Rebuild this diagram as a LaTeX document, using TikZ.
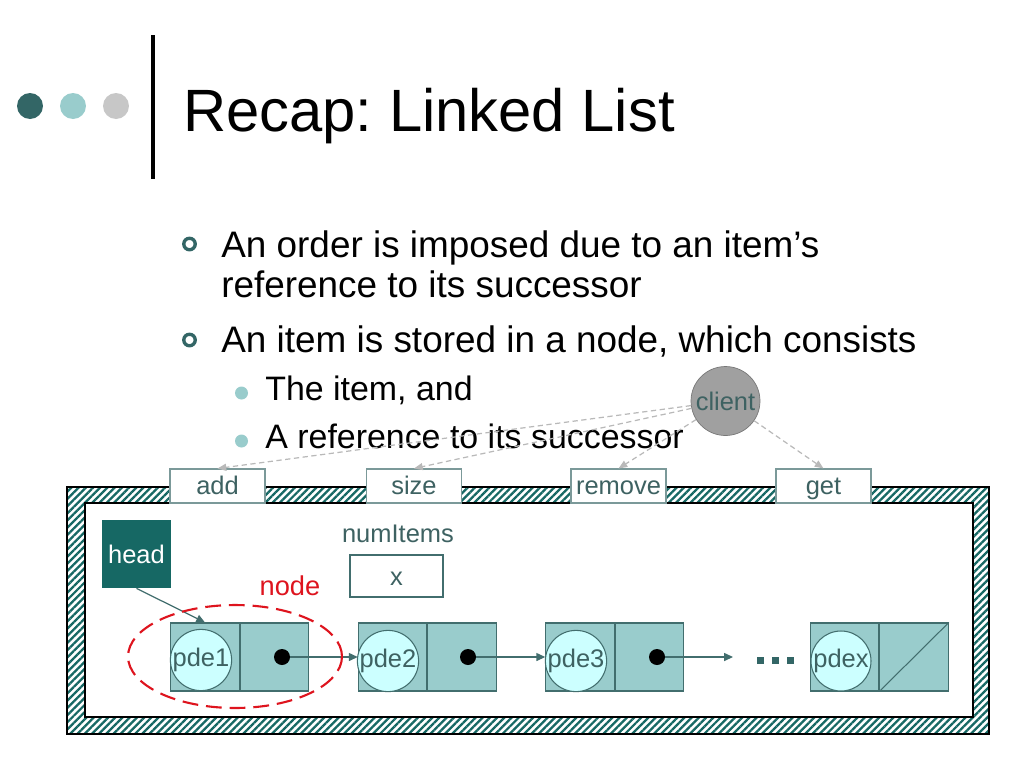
\documentclass[tikz,border=0pt]{standalone}
\usepackage{fontspec}
\setmainfont{Liberation Sans}
\usetikzlibrary{arrows.meta,patterns.meta,shapes.geometric,positioning}
\frenchspacing

\definecolor{tealdark}{RGB}{22,104,100}
\definecolor{tealbullet}{RGB}{51,102,102}
\definecolor{tealtext}{RGB}{62,98,98}
\definecolor{cellfill}{RGB}{153,204,204}
\definecolor{celledge}{RGB}{66,110,110}
\definecolor{itemfill}{RGB}{204,255,255}
\definecolor{clientfill}{RGB}{160,160,160}
\definecolor{clientedge}{RGB}{120,120,120}
\definecolor{callgray}{RGB}{185,185,185}
\definecolor{nodered}{RGB}{222,20,30}

\begin{document}
\begin{tikzpicture}[
        x=0.02cm, y=-0.02cm,
        % Ячейка узла списка
        cell/.style={
            draw=celledge, fill=cellfill, line width=0.6pt,
            minimum width=1.37cm, minimum height=1.36cm, inner sep=0pt
        },
        % Элемент внутри узла
        item/.style={
            circle, draw=celledge, fill=itemfill, line width=0.6pt,
            minimum size=1.2cm, inner sep=0pt, text=tealtext,
            font=\fontsize{14.5}{16}\selectfont
        },
        % Ссылка на следующий узел
        ptr/.style={circle, fill=black, minimum size=0.32cm, inner sep=0pt},
        link/.style={
            draw=celledge, line width=0.7pt,
            -{Triangle[length=5pt,width=4.5pt]}
        },
        % Методы класса
        tab/.style={
            draw=celledge!70, fill=white, line width=0.6pt,
            minimum width=1.9cm, minimum height=0.68cm, inner sep=0pt,
            text height=13pt, text depth=3pt,
            text=tealtext, font=\fontsize{14.5}{16}\selectfont
        },
        call/.style={
            draw=callgray, dash pattern=on 3pt off 2pt, line width=0.7pt,
            -{Triangle[length=5pt,width=4pt]}
        },
        label style/.style={
            text=tealtext, font=\fontsize{14.5}{16}\selectfont, inner sep=0pt
        },
        bullet text/.style={anchor=base west, inner sep=0pt, font=\fontsize{21}{25}\selectfont},
        sub text/.style={anchor=base west, inner sep=0pt, font=\fontsize{19.3}{23}\selectfont}
    ]
    \useasboundingbox (0,0) rectangle (1024,768);

    % Заголовок
    \fill[tealbullet] (30,106) circle (0.26cm);
    \fill[cellfill] (73,106) circle (0.26cm);
    \fill[black!22] (116,106) circle (0.26cm);
    \draw[line width=2.3pt] (153,35) -- (153,179);
    \node[anchor=base west, inner sep=0pt, font=\fontsize{34}{40}\selectfont] (title) at (183,131) {Recap: Linked List};

    % Пункты
    \draw[tealbullet, line width=1.9pt] (189.5,244) circle (0.115cm);
    \draw[tealbullet, line width=1.9pt] (189.5,340) circle (0.115cm);
    \fill[cellfill] (241.5,393) circle (0.13cm);
    \fill[cellfill] (241.5,441) circle (0.13cm);
    \node[bullet text] (b1) at (221,257) {An order is imposed due to an item’s};
    \node[bullet text] (b1b) at (221,297) {reference to its successor};
    \node[bullet text] (b2) at (221,352) {An item is stored in a node, which consists};
    \node[sub text] (s1) at (265,400) {The item, and};
    \node[sub text] (s2) at (265,448) {A reference to its successor};

    % Рамка со штриховкой
    \fill[pattern={Lines[angle=45,distance=2.9pt,line width=1.3pt]}, pattern color=tealdark] (67,487) rectangle (989,734);
    \fill[white] (85,503) rectangle (973,717);
    \draw[line width=0.6pt] (67,487) rectangle (989,734);
    \draw[line width=0.6pt] (85,503) rectangle (973,717);

    % Методы и клиент
    \node[tab] (tadd) at (217.5,486) {add};
    \node[tab] (tsize) at (414,486) {size};
    \node[tab] (tremove) at (618.5,486) {remove};
    \node[tab] (tget) at (823.5,486) {get};
    \node[circle, draw=clientedge, fill=clientfill, minimum size=1.38cm, label style] (cl) at (725.5,401) {client};
    \draw[call] (cl) -- (tadd.north);
    \draw[call] (cl) -- (tsize.north);
    \draw[call] (cl) -- (tremove.north);
    \draw[call] (cl) -- (tget.north);

    % head и numItems
    \node[fill=tealdark, minimum width=1.38cm, minimum height=1.36cm, label style, text=white] (hd) at (136.5,554) {head};
    \node[label style] (numlbl) at (398,534) {numItems};
    \node[draw=celledge, fill=white, line width=0.6pt, minimum width=1.86cm, minimum height=0.84cm, label style, text height=10.3pt, text depth=0pt] (numbox) at (396.5,576) {x};

    % Узлы списка
    \node[cell] (n1l) at (205,657) {};
    \node[cell, right=0pt of n1l] (n1r) {};
    \node[cell] (n2l) at (392.5,657) {};
    \node[cell, right=0pt of n2l] (n2r) {};
    \node[cell] (n3l) at (580,657) {};
    \node[cell, right=0pt of n3l] (n3r) {};
    \node[cell] (nxl) at (844.5,657) {};
    \node[cell, right=0pt of nxl] (nxr) {};
    \draw[celledge, line width=0.6pt] (nxr.south west) -- (nxr.north east);

    \node[item] (p1) at (201,660) {pde1};
    \node[item] (p2) at (388,661) {pde2};
    \node[item] (p3) at (576,661) {pde3};
    \node[item] (px) at (841,661) {pdex};

    \node[ptr] (d1) at (282,657) {};
    \node[ptr] (d2) at (468,657) {};
    \node[ptr] (d3) at (657,657) {};
    \coordinate (e3) at (733,657);
    \draw[link] (d1) -- (n2l.west);
    \draw[link] (d2) -- (n3l.west);
    \draw[link] (d3) -- (e3);
    \draw[link] (hd.south) -- (n1l.north);

    % Многоточие
    \foreach \i in {760,775,790}
        \fill[tealbullet] (\i-3.5,657) rectangle (\i+3.5,664);

    % Выделение узла
    \node[ellipse, draw=nodered, dash pattern=on 9pt off 4.5pt, line width=1.2pt, minimum width=4.28cm, minimum height=2.06cm] (grp) at (235,656.5) {};
    \node[text=nodered, inner sep=0pt, font=\fontsize{15.5}{18}\selectfont] (nodelbl) at (290,586) {node};

\end{tikzpicture}
\end{document}
